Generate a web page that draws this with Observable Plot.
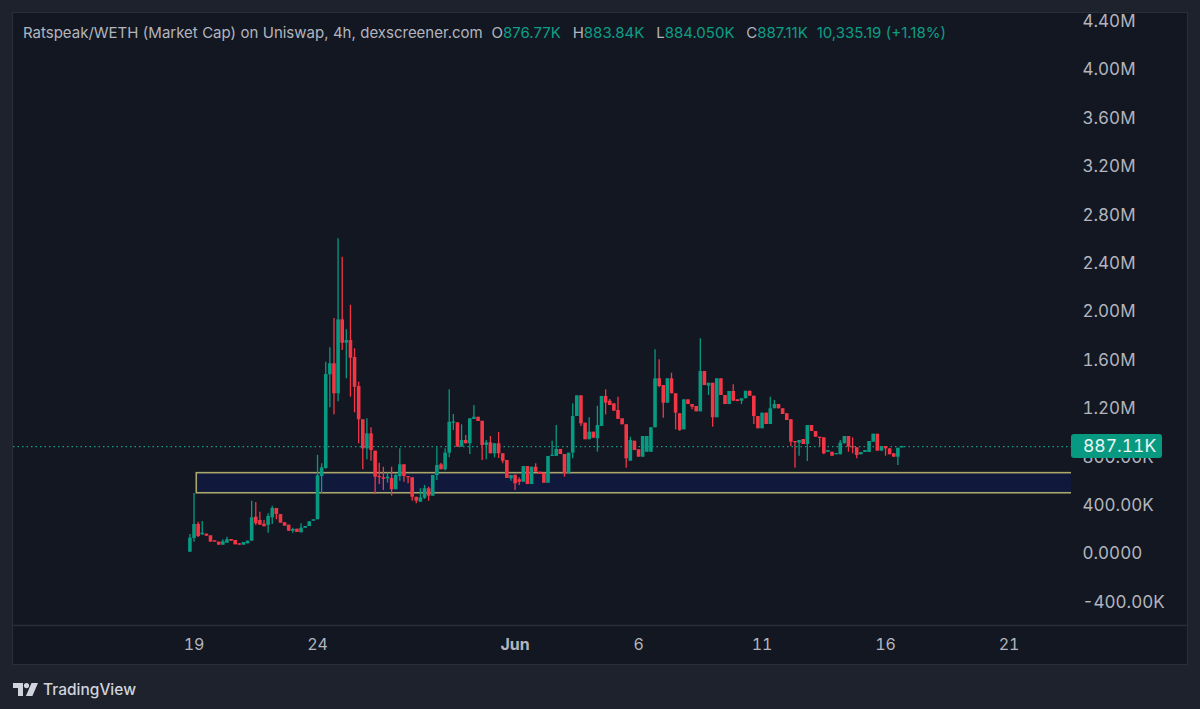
<!DOCTYPE html>
<html><head><meta charset="utf-8">
<script src="https://cdn.jsdelivr.net/npm/d3@7"></script>
<script src="https://cdn.jsdelivr.net/npm/@observablehq/plot@0.6"></script>
<style>
html,body{margin:0;padding:0;background:#1e222d;width:1200px;height:709px;overflow:hidden;font-family:Inter,sans-serif}
#pane{position:absolute;left:13px;top:13px;width:1174px;height:651px;background:#131722;box-shadow:0 0 0 1px #2a2e39}
#chart{position:absolute;left:0;top:0}
#chart svg{background:transparent;display:block;font-variant-numeric:tabular-nums}
#head{position:absolute;left:23px;top:24px;font-size:15px;line-height:18px;color:#b2b5be;white-space:pre;word-spacing:0.2px}
#head .g{color:#0d9f86}
#head .sp{margin-left:3px}
#last{position:absolute;left:1071px;top:434px;width:79px;height:24px;background:#089981;border-radius:3px;color:#e8f5f2;font-size:17.5px;line-height:24px;padding-left:12px;text-align:left;font-variant-numeric:tabular-nums;font-feature-settings:"tnum"}
#logo{position:absolute;left:13px;top:680px;display:flex;align-items:center;color:#d1d4dc;font-size:15.5px;font-weight:500}
</style></head><body>
<div id="pane"></div>
<div id="chart"></div>
<div id="head"></div>
<div id="last"></div>
<div id="logo"><svg width="25" height="13" viewBox="0 0 25 13" style="margin-right:5px"><path fill="#d1d4dc" d="M0 0h10v13H5V5H0z"/><circle cx="13.5" cy="2.6" r="2.6" fill="#d1d4dc"/><path fill="#d1d4dc" d="M18.5 0H25l-5.6 13h-6.5z"/></svg><span>TradingView</span></div>
<script>
const title = "Ratspeak/WETH (Market Cap) on Uniswap, 4h, dexscreener.com";
const legend = [["O","876.77K"],["H","883.84K"],["L","884.050K"],["C","887.11K"]];
const change = "10,335.19 (+1.18%)";
const lastLabel = "887.11K";
const lastClose = 887.11;

const firstCandle = new Date(Date.UTC(2024,4,18,20));
const open = [15,128,244,159,164,150,109,98,73,89,120,112,84,73,84,106,304,277,246,236,299,376,326,258,238,188,205,175,213,227,271,283,640,707,1481,1572,1324,1935,1742,1764,1624,1384,1109,869,993,850,640,630,621,624,531,640,737,640,630,469,428,461,539,478,649,737,696,833,1081,1084,883,938,911,1112,1130,1097,897,919,828,911,828,773,621,651,613,593,723,574,717,676,668,585,806,806,864,822,668,833,1136,1307,1081,944,1007,952,1054,1302,1263,1241,1186,1117,1068,767,932,861,800,841,841,1043,1448,1392,1246,1448,1324,1159,1026,1274,1235,1219,1175,1508,1387,1411,1126,1448,1310,1235,1343,1274,1263,1283,1345,1304,1136,1035,1164,1070,1200,1235,1200,1159,1109,930,916,946,905,1062,1012,965,960,841,841,820,820,911,971,888,878,820,839,839,924,990,850,888,869,828,800,877];
const high = [161,500,263,269,164,150,109,98,117,139,120,112,84,95,106,436,426,345,277,332,395,376,326,258,238,213,205,250,227,266,283,816,745,1585,1704,1946,2605,2453,1853,2056,1696,1420,1109,1117,1043,850,750,717,668,717,663,869,737,640,630,469,539,566,552,649,878,750,869,1357,1153,1084,1068,979,1117,1227,1130,1097,938,971,911,1004,828,773,649,651,630,723,723,717,745,676,668,806,932,1062,864,822,833,1241,1307,1307,1081,1126,1007,1221,1302,1357,1277,1241,1296,1117,1068,965,932,861,971,971,1043,1688,1605,1392,1448,1494,1324,1159,1274,1274,1235,1219,1778,1508,1411,1411,1448,1448,1310,1343,1398,1274,1283,1345,1345,1304,1136,1164,1164,1296,1269,1235,1200,1159,1109,930,938,946,1062,1062,1012,965,960,855,841,828,938,971,971,960,878,839,855,930,990,990,888,888,869,828,874,890];
const low = [12,98,136,153,147,98,98,73,73,89,106,76,73,73,84,106,236,238,225,172,244,283,255,230,188,172,178,175,213,227,271,283,500,701,1208,1150,1258,1682,1448,1296,1167,911,696,778,767,492,574,525,585,478,531,602,593,580,436,415,428,451,436,478,607,696,686,795,1021,883,883,911,822,1112,1095,773,778,828,795,789,745,624,602,525,566,593,574,574,676,657,585,585,806,806,822,635,668,787,1136,1054,944,944,957,841,1054,1150,1227,1180,1112,1068,709,767,855,800,800,841,841,1043,1373,1122,1246,1324,1026,1012,1026,1235,1192,1175,1175,1392,1310,1048,1126,1310,1235,1235,1263,1260,1235,1283,1304,1070,1035,1035,1070,1070,1200,1200,1153,1103,888,709,808,905,764,1012,965,883,820,841,808,820,820,911,841,828,787,820,839,839,924,850,850,808,820,800,731,877];
const close = [131,244,145,172,147,98,98,73,101,117,106,76,73,95,106,299,250,238,225,310,376,326,255,230,188,202,178,213,227,266,283,645,712,1483,1572,1324,1935,1742,1764,1618,1378,1109,869,993,855,635,630,618,635,531,649,737,640,630,469,436,464,539,478,649,731,696,833,1089,1089,883,938,911,1117,1130,1095,897,919,828,911,828,767,624,649,580,593,723,574,717,676,657,585,806,814,864,822,663,833,1136,1307,1076,944,1007,957,1062,1302,1246,1227,1180,1112,1068,787,938,855,800,971,971,1043,1448,1384,1246,1448,1324,1164,1021,1274,1235,1213,1175,1508,1392,1411,1126,1448,1310,1235,1343,1263,1260,1283,1345,1304,1136,1035,1164,1070,1200,1235,1200,1153,1103,924,919,938,905,1062,1012,965,960,828,855,808,828,916,971,883,878,814,839,855,930,990,850,888,869,820,800,874,887.11];

const yTicks = [-400,0,400,800,1200,1600,2000,2400,2800,3200,3600,4000,4400];
const yTickLabels = ["-400.00K","0.0000","400.00K","800.00K","1.20M","1.60M","2.00M","2.40M","2.80M","3.20M","3.60M","4.00M","4.40M"];
const xTicks = [new Date(Date.UTC(2024,4,19)),new Date(Date.UTC(2024,4,24)),new Date(Date.UTC(2024,5,6)),new Date(Date.UTC(2024,5,11)),new Date(Date.UTC(2024,5,16)),new Date(Date.UTC(2024,5,21))];
const monthTick = [new Date(Date.UTC(2024,5,1))];
const bandLow = 502, bandHigh = 668;
const bandStart = new Date(Date.UTC(2024,4,19,2,40));
const xDomain = [new Date(Date.UTC(2024,4,11,16,34)), new Date(Date.UTC(2024,5,23,12,43))];
const bandEnd = new Date(Date.UTC(2024,5,25));
const paneEnd = new Date(Date.UTC(2024,5,28,5,17));

const green = "#089981", red = "#f23645";
const candles = open.map((o,i)=>({t:d3.utcHour.offset(firstCandle,4*i),o,h:high[i],l:low[i],c:close[i]}));
const colorOf = d => d.c>=d.o ? green : red;

document.getElementById("head").innerHTML = title + "  " +
  legend.map(([k,v])=>`${k}<span class="g">${v}</span>`).join(`  <span class="sp"></span>`) + `  <span class="g">${change}</span>`;
document.getElementById("last").textContent = lastLabel;

const plot = Plot.plot({
  width:1200, height:709,
  marginLeft:13, marginRight:129, marginTop:13, marginBottom:84,
  style:{background:"transparent",fontFamily:"Inter, sans-serif",overflow:"visible"},
  x:{type:"utc",domain:xDomain},
  y:{type:"linear",domain:[-591,4467]},
  marks:[
    Plot.ruleY([-591],{x1:()=>xDomain[0],x2:()=>paneEnd,stroke:"#2a2e39",strokeWidth:1.5}),
    Plot.rect([{}],{x1:()=>bandStart,x2:()=>bandEnd,y1:()=>bandLow,y2:()=>bandHigh,fill:"#10193c",stroke:"#a9a76c",strokeWidth:1.6,clip:true}),
    Plot.ruleY([lastClose],{stroke:"#149c86",strokeDasharray:"1.5,3",strokeWidth:1.2}),
    Plot.ruleX(candles,{x:"t",y1:"l",y2:"h",stroke:colorOf,strokeWidth:1.3}),
    Plot.ruleX(candles,{x:"t",y1:d=>d.o,y2:d=>Math.abs(d.c-d.o)<10?d.o+10*Math.sign(d.c-d.o||1):d.c,stroke:colorOf,strokeWidth:3.6}),
    Plot.axisY({anchor:"right",ticks:yTicks,tickSize:0,tickPadding:11,tickFormat:d=>yTickLabels[yTicks.indexOf(d)],label:null,fontSize:17,fill:"#b2b5be"}),
    Plot.axisX({anchor:"bottom",ticks:xTicks,tickSize:0,tickPadding:13,tickFormat:d=>d3.utcFormat("%-d")(d),label:null,fontSize:16,fill:"#b2b5be"}),
    Plot.axisX({anchor:"bottom",ticks:monthTick,tickSize:0,tickPadding:13,tickFormat:d=>d3.utcFormat("%b")(d),label:null,fontSize:16,fontWeight:700,fill:"#b2b5be"})
  ]
});
document.getElementById("chart").appendChild(plot);
</script></body></html>
